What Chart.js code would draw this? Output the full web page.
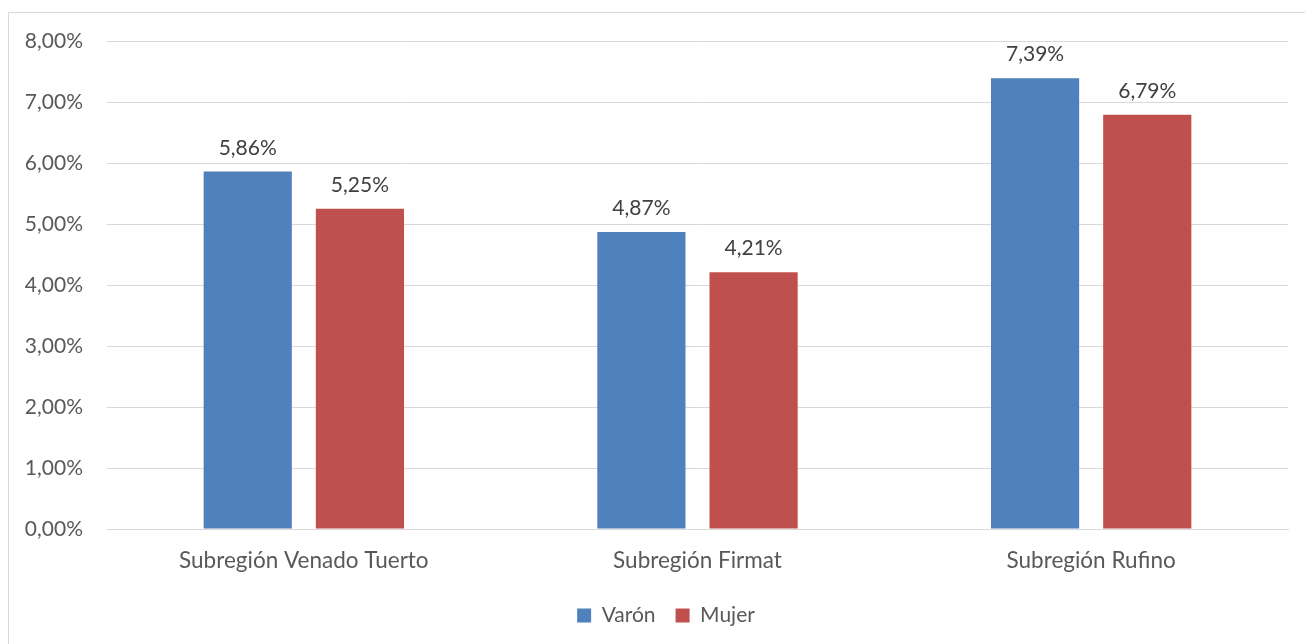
<!DOCTYPE html>
<html>
<head>
<meta charset="utf-8">
<script src="https://cdn.jsdelivr.net/npm/chart.js@4"></script>
<style>
  html, body { margin: 0; padding: 0; background: #fff; }
  #wrap { width: 1305px; height: 644px; position: relative; }
</style>
</head>
<body>
<div id="wrap"><canvas id="chart" width="1305" height="644"></canvas></div>
<script>
const categories = ['Subregión Venado Tuerto', 'Subregión Firmat', 'Subregión Rufino'];
const varon = [5.86, 4.87, 7.39];
const mujer = [5.25, 4.21, 6.79];
const yTicks = [0, 1, 2, 3, 4, 5, 6, 7, 8];

const FONT = 'Lato, "Open Sans", sans-serif';
const TEXT = '#595959';

function pct(v) {
    return v.toFixed(2).replace('.', ',') + '%';
}

// light frame round the chart, like the excel chart border
const framePlugin = {
    id: 'frame',
    beforeDraw(chart) {
        const ctx = chart.ctx;
        ctx.save();
        ctx.strokeStyle = '#d9d9d9';
        ctx.lineWidth = 1;
        ctx.strokeRect(8.5, 12.5, 1400, 700);
        ctx.restore();
    },
    // legend in the original sits a bit right of the canvas centre
    afterLayout(chart) {
        if (chart.legend) chart.legend.left += 44;
    }
};

// value labels above each bar
const labelPlugin = {
    id: 'barLabels',
    afterDatasetsDraw(chart) {
        const ctx = chart.ctx;
        ctx.save();
        ctx.font = '21px ' + FONT;
        ctx.fillStyle = '#404040';
        ctx.textAlign = 'center';
        ctx.textBaseline = 'bottom';
        chart.data.datasets.forEach((ds, i) => {
            chart.getDatasetMeta(i).data.forEach((bar, j) => {
                ctx.fillText(pct(ds.data[j]), bar.x, bar.y - 13);
            });
        });
        ctx.restore();
    }
};

new Chart(document.getElementById('chart'), {
    type: 'bar',
    data: {
        labels: categories,
        datasets: [
            { label: 'Varón', data: varon, backgroundColor: '#4f81bd' },
            { label: 'Mujer', data: mujer, backgroundColor: '#c0504d' }
        ]
    },
    options: {
        responsive: false,
        animation: false,
        categoryPercentage: 0.57,
        barPercentage: 0.786,
        layout: { padding: { top: 41, right: 17, bottom: 8, left: 0 } },
        plugins: {
            legend: {
                position: 'bottom',
                labels: {
                    boxWidth: 14,
                    boxHeight: 14,
                    padding: 20,
                    color: TEXT,
                    font: { family: FONT, size: 21 }
                }
            },
            tooltip: { enabled: false }
        },
        scales: {
            x: {
                afterFit(scale) { scale.height -= 7; },
                grid: { display: false, drawTicks: false },
                border: { color: '#d9d9d9' },
                ticks: { color: TEXT, font: { family: FONT, size: 22.5 }, padding: 18 }
            },
            y: {
                min: 0,
                max: 8,
                afterFit(scale) { scale.width = 107; },
                afterBuildTicks(scale) { scale.ticks = yTicks.map(v => ({ value: v })); },
                grid: { color: '#d9d9d9', drawTicks: false },
                border: { display: false },
                ticks: {
                    color: TEXT,
                    font: { family: FONT, size: 21 },
                    padding: 24,
                    callback: v => pct(v)
                }
            }
        }
    },
    plugins: [framePlugin, labelPlugin]
});
</script>
</body>
</html>
